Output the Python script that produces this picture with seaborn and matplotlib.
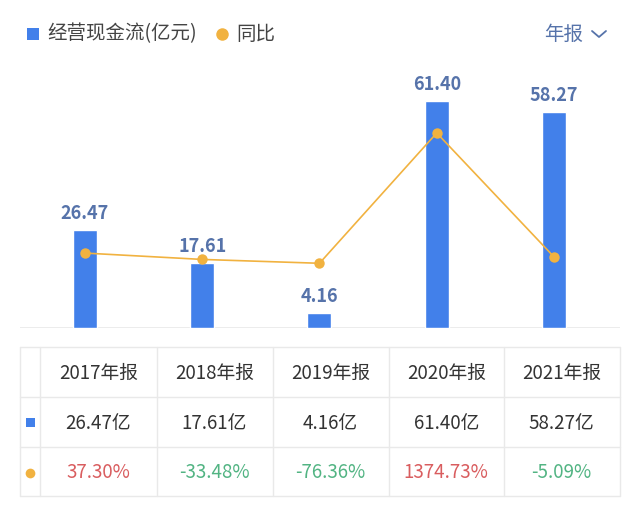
import matplotlib
matplotlib.use("Agg")
import matplotlib.pyplot as plt
import seaborn as sns
import pandas as pd
import numpy as np
from matplotlib.patches import Rectangle

# ---------------- data ----------------
years = ["2017年报", "2018年报", "2019年报", "2020年报", "2021年报"]
cash_flow = [26.47, 17.61, 4.16, 61.40, 58.27]
yoy = [37.30, -33.48, -76.36, 1374.73, -5.09]
legend_bar = "经营现金流(亿元)"
legend_line = "同比"
period_label = "年报"

# ---------------- style ----------------
sns.set_theme(style="white")
FONT = ["Noto Sans CJK SC", "DejaVu Sans"]
plt.rcParams["font.family"] = FONT
plt.rcParams["axes.unicode_minus"] = False

BLUE = "#4280ea"
ORANGE = "#f1b240"
LABEL_BLUE = "#5673aa"
DARK = "#333333"
RED = "#d95d5f"
GREEN = "#52b483"
GRID = "#e9e9e9"

W, H = 640, 519
fig = plt.figure(figsize=(6.4, 5.19), dpi=100)
fig.patch.set_facecolor("white")

def fx(px):
    return px / W

def fy(py):
    return 1 - py / H

# ---------------- chart ----------------
ax_left, ax_right = 20, 620
ax_top, ax_bot = 69, 328
ax = fig.add_axes([fx(ax_left), fy(ax_bot), fx(ax_right - ax_left), (ax_bot - ax_top) / H])
df = pd.DataFrame({"year": years, "cf": cash_flow, "yoy": yoy, "pos": np.arange(len(years))})

sns.barplot(data=df, x="year", y="cf", order=years, color=BLUE, saturation=1,
            width=0.205, ax=ax)
ax.bar_label(ax.containers[0], labels=[f"{v:.2f}" for v in cash_flow], padding=5,
             color=LABEL_BLUE, fontsize=13, fontweight="bold")
ax.set_xlim(-0.554, 4.563)
ax.set_ylim(0, 70)
ax.axis("off")
ax.axhline(0, color=GRID, lw=1.2, zorder=0)

ax2 = ax.twinx()
sns.lineplot(data=df, x="pos", y="yoy", color=ORANGE, lw=1.2, marker="o",
             markersize=7.5, markeredgewidth=0, ax=ax2)
ax2.set_ylim(-797, 2087)
ax2.set_xlim(-0.554, 4.563)
ax2.axis("off")

# ---------------- overlay (legend + table) ----------------
ov = fig.add_axes([0, 0, 1, 1], zorder=5)
ov.set_xlim(0, W)
ov.set_ylim(H, 0)
ov.axis("off")
ov.patch.set_alpha(0)

# legend
ov.add_patch(Rectangle((27, 28), 12, 12, color=BLUE, lw=0))
ov.text(47, 34, legend_bar, fontsize=14, color="#444444", va="center", ha="left")
ov.plot([222], [34], "o", color=ORANGE, markersize=9, markeredgewidth=0)
ov.text(236, 34, legend_line, fontsize=14, color="#444444", va="center", ha="left")
ov.text(583, 34, period_label, fontsize=14, color=LABEL_BLUE, va="center", ha="right")
ov.plot([592, 599, 606], [31, 37, 31], color=LABEL_BLUE, lw=1.3)

# table
col_edges = [20, 40, 156.5, 272.5, 388.5, 504, 619.5]
row_edges = [347, 397, 447, 496]
for x in col_edges:
    ov.plot([x, x], [row_edges[0], row_edges[-1]], color=GRID, lw=1)
for y in row_edges:
    ov.plot([col_edges[0], col_edges[-1]], [y, y], color=GRID, lw=1)

row_centers = [373, 423, 472]
for i, yr in enumerate(years):
    cx = (col_edges[i + 1] + col_edges[i + 2]) / 2
    ov.text(cx, row_centers[0], yr, fontsize=13.5, color=DARK, ha="center", va="center",
            fontweight="medium")
    ov.text(cx, row_centers[1], f"{cash_flow[i]:.2f}亿", fontsize=13.5, color=DARK,
            ha="center", va="center", fontweight="medium")
    ov.text(cx, row_centers[2], f"{yoy[i]:.2f}%", fontsize=13.5,
            color=RED if yoy[i] >= 0 else GREEN, ha="center", va="center",
            fontweight="medium")

ov.add_patch(Rectangle((25.5, 418), 9, 9, color=BLUE, lw=0))
ov.plot([30], [472.5], "o", color=ORANGE, markersize=7, markeredgewidth=0)

fig.savefig("out.png", dpi=100, facecolor="white")
